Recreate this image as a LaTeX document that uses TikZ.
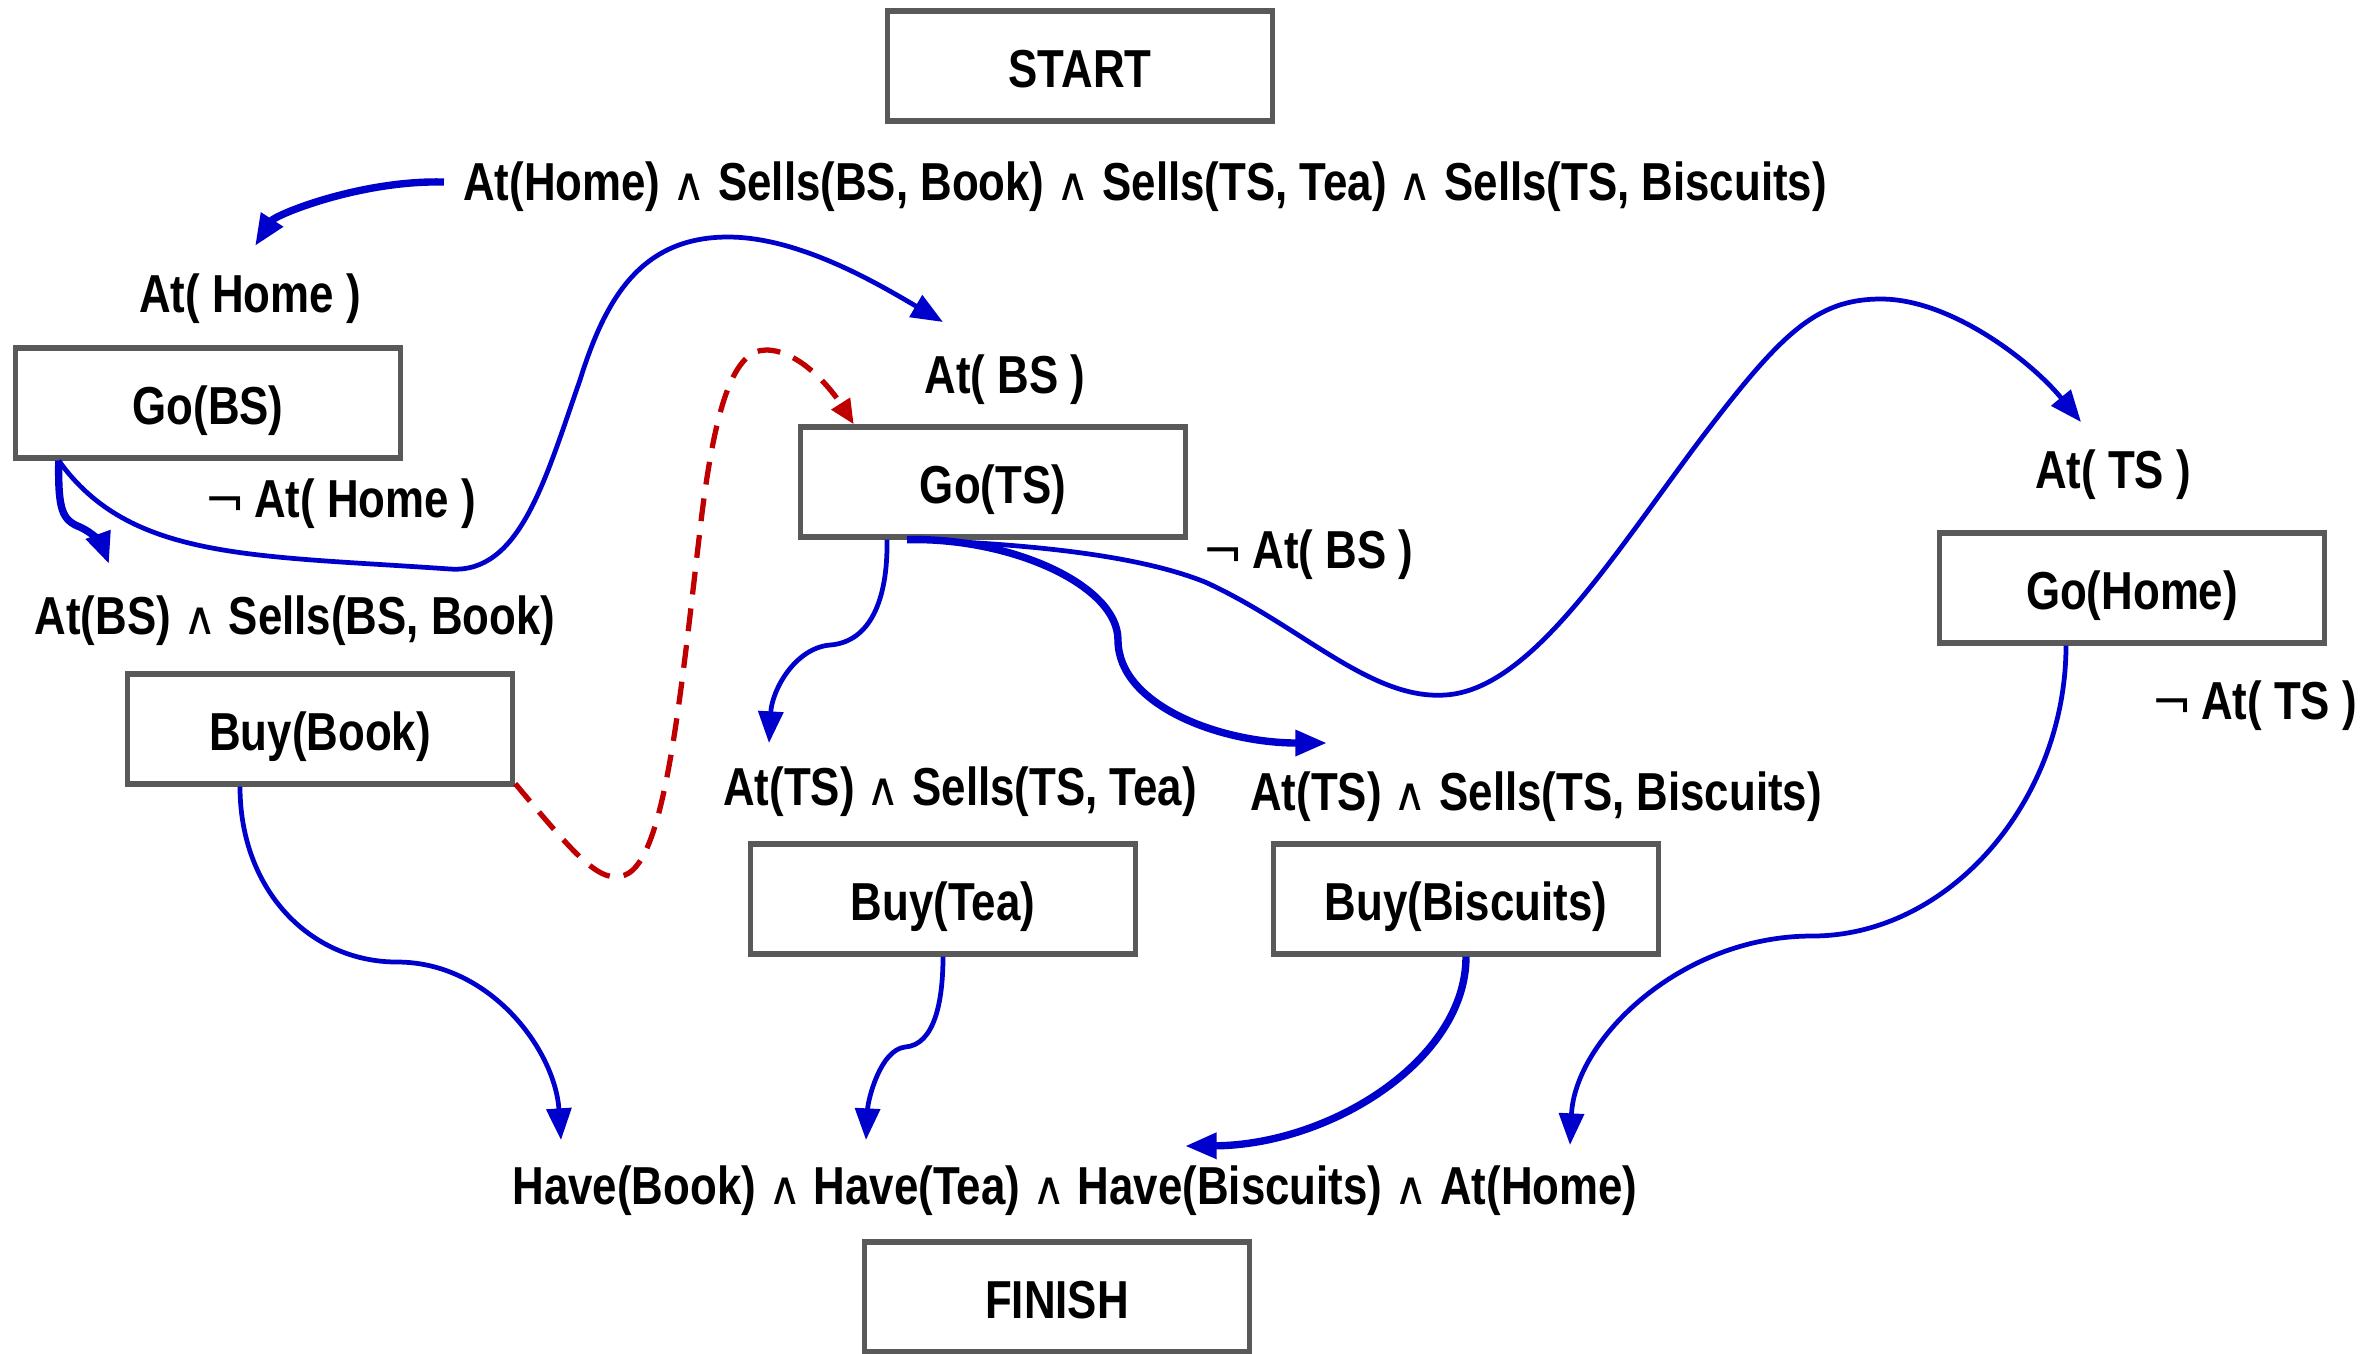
\documentclass[tikz,border=0pt]{standalone}
\usepackage{fontspec}
\setmainfont{Liberation Sans}[FakeStretch=0.82]
\newfontfamily\symf{DejaVu Sans}
\usetikzlibrary{arrows.meta,calc}
\definecolor{edgeblue}{RGB}{0,0,204}
\definecolor{boxgray}{RGB}{89,89,89}
\definecolor{dashred}{RGB}{192,0,0}
\newcommand{\AND}{\ {\symf\mdseries\fontsize{13}{13}\selectfont ∧}\ }
\newcommand{\NOT}{{\symf\mdseries\fontsize{14}{14}\selectfont ¬}\,}
\tikzset{
  stepbox/.style={draw=boxgray, line width=1.5pt, fill=white, minimum width=3.85cm, minimum height=1.1cm, inner sep=0pt, text height=0.42cm, text depth=0cm},
  lbl/.style={inner sep=1pt, text height=0.36cm, text depth=0cm},
  link/.style={draw=edgeblue, line width=1.35pt, -{Triangle[length=9pt,width=7pt]}},
  thicklink/.style={link, line width=2.1pt},
  threat/.style={draw=dashred, line width=1.5pt, dash pattern=on 6.5pt off 4pt, -{Triangle[length=7pt,width=6pt]}},
}
\begin{document}
\begin{tikzpicture}[x=0.01cm, y=-0.01cm, font=\bfseries\fontsize{15.2}{18}\selectfont]
\useasboundingbox (0,0) rectangle (2378,1353);
% boxes
\node[stepbox] (start) at (1080,66) {START};
\node[stepbox] (gobs) at (208,403) {Go(BS)};
\node[stepbox] (buybook) at (320,729) {Buy(Book)};
\node[stepbox] (gots) at (993,482) {Go(TS)};
\node[stepbox] (gohome) at (2132,588) {Go(Home)};
\node[stepbox] (buytea) at (943,899) {Buy(Tea)};
\node[stepbox] (buybisc) at (1466,899) {Buy(Biscuits)};
\node[stepbox] (finish) at (1057,1297) {FINISH};
% labels
\node[lbl] (init) at (1145,182) {At(Home)\AND Sells(BS, Book)\AND Sells(TS, Tea)\AND Sells(TS, Biscuits)};
\node[lbl] (athome) at (250,294) {At( Home )};
\node[lbl] (nathome) at (340,499) {\NOT At( Home )};
\node[lbl] (atbssells) at (295,616) {At(BS)\AND Sells(BS, Book)};
\node[lbl] (atbs) at (1005,375) {At( BS )};
\node[lbl] (natbs) at (1308,550) {\NOT At( BS )};
\node[lbl] (atts) at (2113,470) {At( TS )};
\node[lbl] (natts) at (2254,701) {\NOT At( TS )};
\node[lbl] (teapre) at (960,787) {At(TS)\AND Sells(TS, Tea)};
\node[lbl] (biscpre) at (1536,792) {At(TS)\AND Sells(TS, Biscuits)};
\node[lbl] (goal) at (1075,1186) {Have(Book)\AND Have(Tea)\AND Have(Biscuits)\AND At(Home)};
% connectors
\draw[thicklink] ($(init.west)+(-15,0)$) .. controls (360,180) and (275,215) .. ($(athome.center)+(5,-48)$);
\draw[thicklink] ($(gobs.south west)+(46,0)$) .. controls (58,510) and (62,520) .. (80,527) .. controls (95,534) and (102,545) .. ($(atbssells.center)+(-186,-52)$);
\draw[link] ($(gobs.south west)+(46,0)$) .. controls (130,560) and (250,555) .. (450,569) .. controls (520,574) and (545,480) .. (580,380) .. controls (605,300) and (640,237) .. (728,237) .. controls (800,237) and (880,285) .. ($(atbs.center)+(-62,-53)$);
\draw[threat] ($(buybook.south east)+(0,-3)$) .. controls (575,855) and (600,885) .. (625,875) .. controls (665,860) and (680,700) .. (700,530) .. controls (715,400) and (735,350) .. (766,350) .. controls (800,350) and (832,390) .. ($(gots.north west)+(56,0)$);
\draw[link] ($(gots.south)+(-106,0)$) .. controls (888,600) and (870,642) .. (830,645) .. controls (795,648) and (772,690) .. ($(teapre.center)+(-191,-44)$);
\draw[thicklink] ($(gots.south)+(-86,0)$) .. controls (1010,537) and (1118,585) .. (1118,640) .. controls (1118,705) and (1220,743) .. ($(biscpre.center)+(-209,-49)$);
\draw[link] ($(gots.south)+(-83,0)$) .. controls (1060,545) and (1150,560) .. (1205,582) .. controls (1300,625) and (1370,700) .. (1445,695) .. controls (1530,690) and (1610,560) .. (1700,440) .. controls (1780,335) and (1815,299) .. (1881,299) .. controls (1950,299) and (2030,360) .. ($(atts.center)+(-32,-48)$);
\draw[link] ($(buybook.south)+(-80,0)$) .. controls (240,890) and (310,962) .. (397,962) .. controls (490,962) and (555,1050) .. ($(goal.center)+(-514,-46)$);
\draw[link] (buytea.south) .. controls (943,1000) and (935,1045) .. (905,1047) .. controls (880,1050) and (868,1100) .. ($(goal.center)+(-209,-46)$);
\draw[thicklink] (buybisc.south) .. controls (1466,1060) and (1330,1145) .. ($(goal.center)+(110,-40)$);
\draw[link] ($(gohome.south)+(-66,0)$) .. controls (2066,800) and (1950,936) .. (1812,936) .. controls (1680,936) and (1575,1040) .. ($(goal.center)+(495,-41)$);
\end{tikzpicture}
\end{document}
